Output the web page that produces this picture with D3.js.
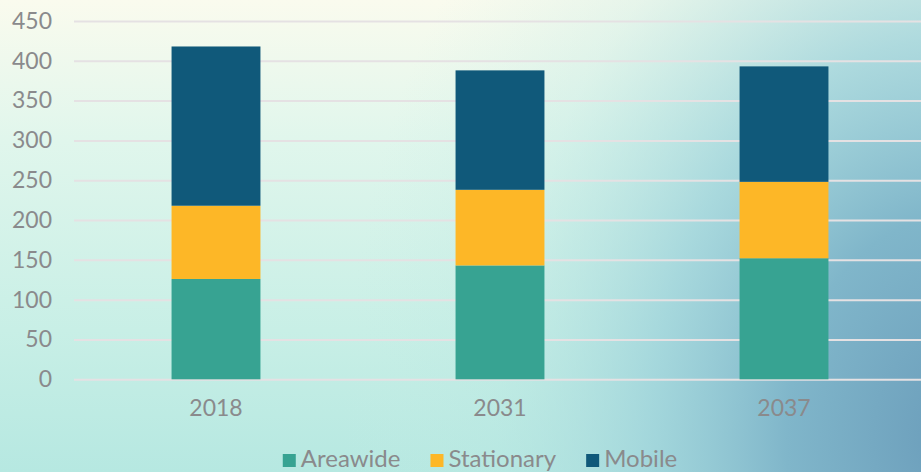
<html>
<script src='https://d3js.org/d3.v7.min.js'></script>
<style>
body { margin: 0; }
text { font-family: Lato, "Open Sans", sans-serif; fill: #8a8a8c; }
</style>
<body>
<svg width=921 height=472></svg>
<script>
var years = ["2018", "2031", "2037"];
var series = ["Areawide", "Stationary", "Mobile"];
var areawide = [126, 143, 152];
var stationary = [92, 95, 96];
var mobile = [200, 150, 145];
var yTicks = [0, 50, 100, 150, 200, 250, 300, 350, 400, 450];
var colors = ["#37a392", "#fdb727", "#10597a"];

var W = 921, H = 472;
var svg = d3.select("svg");

// background
var defs = svg.append("defs");
var lg = defs.append("linearGradient").attr("id", "bg").attr("x1", 0).attr("y1", 0).attr("x2", 0).attr("y2", 1);
lg.append("stop").attr("offset", 0).attr("stop-color", "#fafbee");
lg.append("stop").attr("offset", 0.3).attr("stop-color", "#e0f6ec");
lg.append("stop").attr("offset", 0.7).attr("stop-color", "#c8efe6");
lg.append("stop").attr("offset", 1).attr("stop-color", "#b6e8e1");
var rg = defs.append("radialGradient").attr("id", "blue")
  .attr("gradientUnits", "userSpaceOnUse")
  .attr("cx", 960).attr("cy", 440).attr("r", 620)
  .attr("gradientTransform", "translate(960,440) scale(1,1.3) translate(-960,-440)");
rg.append("stop").attr("offset", 0).attr("stop-color", "#6a9cba").attr("stop-opacity", 1);
rg.append("stop").attr("offset", 0.28).attr("stop-color", "#80b6ca").attr("stop-opacity", 1);
rg.append("stop").attr("offset", 0.5).attr("stop-color", "#9dd2da").attr("stop-opacity", 0.8);
rg.append("stop").attr("offset", 0.75).attr("stop-color", "#b8e6e2").attr("stop-opacity", 0.3);
rg.append("stop").attr("offset", 1).attr("stop-color", "#c8eee6").attr("stop-opacity", 0);
svg.append("rect").attr("width", W).attr("height", H).attr("fill", "url(#bg)");
svg.append("rect").attr("width", W).attr("height", H).attr("fill", "url(#blue)");

var y = d3.scaleLinear().domain([0, 450]).range([379.3, 21]);
var x = d3.scaleBand().domain(years).range([74, 926]).paddingInner(0.687).paddingOuter(0.3435);

// gridlines
svg.append("g")
  .attr("transform", "translate(74,0)")
  .call(d3.axisLeft(y).tickValues(yTicks).tickSize(-852).tickFormat(""))
  .call(g => g.select(".domain").remove())
  .call(g => g.selectAll("line").attr("stroke", "#e5e1e3").attr("stroke-width", 2));

// y labels
svg.append("g")
  .attr("transform", "translate(74,0)")
  .call(d3.axisLeft(y).tickValues(yTicks).tickSize(0).tickPadding(22))
  .call(g => g.select(".domain").remove())
  .call(g => g.selectAll("text").style("font-size", "23px").attr("fill", "#8a8a8c"));

// bars
var rows = years.map(function(yr, i) {
  return { year: yr, Areawide: areawide[i], Stationary: stationary[i], Mobile: mobile[i] };
});
var stack = d3.stack().keys(series)(rows);
svg.append("g").selectAll("g")
  .data(stack)
  .enter().append("g")
    .attr("fill", function(d, i) { return colors[i]; })
  .selectAll("rect")
  .data(function(d) { return d; })
  .enter().append("rect")
    .attr("x", function(d) { return x(d.data.year); })
    .attr("y", function(d) { return y(d[1]); })
    .attr("width", x.bandwidth())
    .attr("height", function(d) { return y(d[0]) - y(d[1]); });

// x labels
svg.append("g")
  .attr("transform", "translate(0,379)")
  .call(d3.axisBottom(x).tickSize(0).tickPadding(21))
  .call(g => g.select(".domain").remove())
  .call(g => g.selectAll("text").style("font-size", "23px").attr("fill", "#8a8a8c"));

// legend
var legend = svg.append("g");
var items = legend.selectAll("g").data(series).enter().append("g");
items.append("rect").attr("width", 13).attr("height", 13).attr("y", -13)
  .attr("fill", function(d, i) { return colors[i]; });
items.append("text").attr("x", 18).style("font-size", "24px").text(function(d) { return d; });
var pos = 0, gap = 30;
items.each(function() {
  var w = 18 + d3.select(this).select("text").node().getComputedTextLength();
  d3.select(this).attr("transform", "translate(" + pos + ",0)");
  pos += w + gap;
});
legend.attr("transform", "translate(" + (480 - (pos - gap) / 2) + ",467)");
</script>
</body>
</html>
